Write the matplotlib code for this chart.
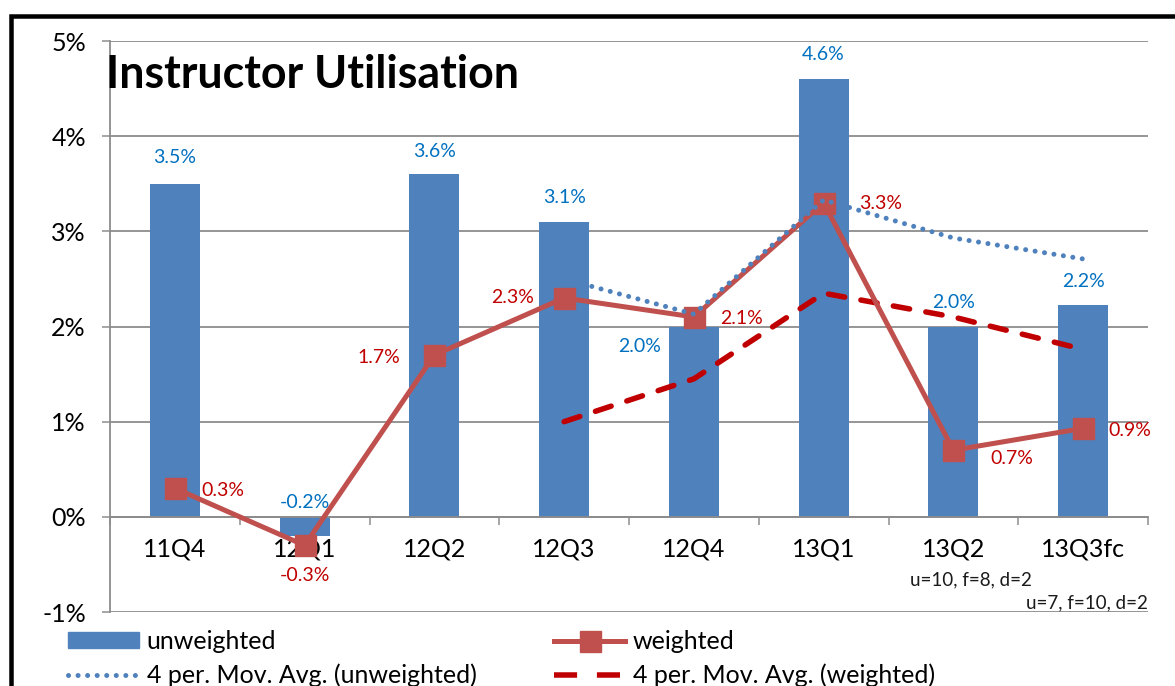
import matplotlib
matplotlib.use("Agg")
import matplotlib.pyplot as plt
from matplotlib.patches import Rectangle
from matplotlib.lines import Line2D
from matplotlib.ticker import FixedLocator, FuncFormatter
import numpy as np

# ---------------- data ----------------
categories = ["11Q4", "12Q1", "12Q2", "12Q3", "12Q4", "13Q1", "13Q2", "13Q3fc"]
unweighted = [3.5, -0.2, 3.6, 3.1, 2.0, 4.6, 2.0, 2.23]
weighted = [0.3, -0.3, 1.7, 2.3, 2.1, 3.3, 0.7, 0.93]
unweighted_labels = ["3.5%", "-0.2%", "3.6%", "3.1%", "2.0%", "4.6%", "2.0%", "2.2%"]
weighted_labels = ["0.3%", "-0.3%", "1.7%", "2.3%", "2.1%", "3.3%", "0.7%", "0.9%"]
# 4-period moving averages (trendlines), from 12Q3 onwards
ma_categories = ["12Q3", "12Q4", "13Q1", "13Q2", "13Q3fc"]
ma_unweighted = [2.5, 2.13, 3.33, 2.93, 2.71]
ma_weighted = [1.0, 1.45, 2.35, 2.1, 1.76]
y_ticks = [-1, 0, 1, 2, 3, 4, 5]
notes = ["u=10, f=8, d=2", "u=7, f=10, d=2"]

# label offsets in pixels (dx, dy) relative to the data point
uw_offsets = [(0, 26), (0, 14), (0, 23), (0, 24), (-54, -20), (0, 25), (0, 24), (0, 23)]
w_offsets = [(48, -2), (0, -30), (-56, -2), (-52, 0), (48, -2), (57, -1), (58, -8), (47, -2)]

# ---------------- style ----------------
FONT = "Lato"
plt.rcParams["font.family"] = [FONT, "DejaVu Sans"]
BAR_C = "#4F81BD"
LINE_C = "#C0504D"
BLUE_TXT = "#0070C0"
RED_TXT = "#C00000"
GRID_C = "#8C8C8C"
PX = 72 / 100.0  # points per pixel at dpi 100

DOT_LS = (0, (0.01, 1.9))
DASH_LS = (0, (3.0, 3.0))

W, H = 1175, 686
fig = plt.figure(figsize=(W / 100, H / 100), dpi=100)
fig.patch.set_facecolor("white")

ax = fig.add_axes([110 / W, 1 - 612 / H, (1148 - 110) / W, (612 - 41) / H])
x = np.arange(len(categories))
idx = {c: i for i, c in enumerate(categories)}
ma_x = [idx[c] for c in ma_categories]

ax.bar(x, unweighted, width=0.386, color=BAR_C, zorder=2)
ax.plot(x, weighted, color=LINE_C, lw=5 * PX, marker="s", ms=21 * PX,
        mfc=LINE_C, mec=LINE_C, zorder=4, solid_joinstyle="miter")
ax.plot(ma_x, ma_unweighted, color=BAR_C, lw=5 * PX, ls=DOT_LS,
        dash_capstyle="round", zorder=5)
ax.plot(ma_x, ma_weighted, color=RED_TXT, lw=5.5 * PX, ls=DASH_LS,
        dash_capstyle="round", zorder=3)

ax.set_xlim(-0.5, len(categories) - 0.5)
ax.set_ylim(y_ticks[0], y_ticks[-1])

# y axis
ax.yaxis.set_major_locator(FixedLocator(y_ticks))
ax.yaxis.set_major_formatter(FuncFormatter(lambda v, p: f"{v:.0f}%"))
ax.tick_params(axis="y", length=8 * PX, width=1.5 * PX, color=GRID_C,
               pad=16 * PX, labelsize=18, labelcolor="black")
ax.grid(axis="y", color=GRID_C, lw=1.8 * PX, zorder=0)
ax.set_axisbelow(True)

# x axis: category axis at 0
ax.spines["bottom"].set_position(("data", 0))
ax.spines["bottom"].set_color(GRID_C)
ax.spines["bottom"].set_linewidth(1.8 * PX)
ax.spines["left"].set_color(GRID_C)
ax.spines["left"].set_linewidth(1.8 * PX)
ax.spines["top"].set_visible(False)
ax.spines["right"].set_visible(False)
ax.set_xticks(x)
ax.set_xticklabels(categories)
ax.set_xticks(np.arange(len(categories) + 1) - 0.5, minor=True)
ax.tick_params(axis="x", which="major", length=0, pad=15, labelsize=18,
               labelcolor="black")
ax.tick_params(axis="x", which="minor", length=8 * PX, width=1.5 * PX,
               color=GRID_C, direction="out")

# data labels
for i, (v, lab, off) in enumerate(zip(unweighted, unweighted_labels, uw_offsets)):
    ref = max(v, 0)
    ax.annotate(lab, (i, ref), xytext=(off[0] * PX, off[1] * PX),
                textcoords="offset points", ha="center", va="center",
                color=BLUE_TXT, fontsize=14, zorder=6)
for i, (v, lab, off) in enumerate(zip(weighted, weighted_labels, w_offsets)):
    ax.annotate(lab, (i, v), xytext=(off[0] * PX, off[1] * PX),
                textcoords="offset points", ha="center", va="center",
                color=RED_TXT, fontsize=14, zorder=6)

# notes below 13Q2 / 13Q3fc
fig.text(971 / W, 1 - 580 / H, notes[0], ha="center", va="center",
         fontsize=13.5, color="#1a1a1a")
fig.text(1148 / W, 1 - 603 / H, notes[1], ha="right", va="center",
         fontsize=13.5, color="#1a1a1a")

# title
fig.text(106 / W, 1 - 88 / H, "Instructor Utilisation", ha="left",
         va="baseline", fontsize=32.2, fontweight="bold", color="black")

# legend
handles = [
    Rectangle((0, 0), 1, 1, color=BAR_C),
    Line2D([], [], color=BAR_C, lw=5 * PX, ls=DOT_LS, dash_capstyle="round"),
    Line2D([], [], color=LINE_C, lw=5 * PX, marker="s", ms=21 * PX),
    Line2D([], [], color=RED_TXT, lw=5.5 * PX, ls=(0, (4.2, 3.6)), dash_capstyle="butt"),
]
labels = ["unweighted", "4 per. Mov. Avg. (unweighted)", "weighted",
          "4 per. Mov. Avg. (weighted)"]
fig.legend(handles, labels, loc="upper left",
           bbox_to_anchor=(68 / W, 1 - 630 / H), ncol=2, frameon=False,
           fontsize=18, handlelength=2.85, handletextpad=0.3,
           columnspacing=3.1, labelspacing=0.42, borderpad=0, borderaxespad=0,
           handleheight=0.6)

# outer frame
fig.patches.append(Rectangle((11 / W, -0.2), 2.0, 1.2 - 16 / H,
                             transform=fig.transFigure, fill=False,
                             ec="black", lw=4.5 * PX, zorder=10))

fig.savefig("out.png", dpi=100)
